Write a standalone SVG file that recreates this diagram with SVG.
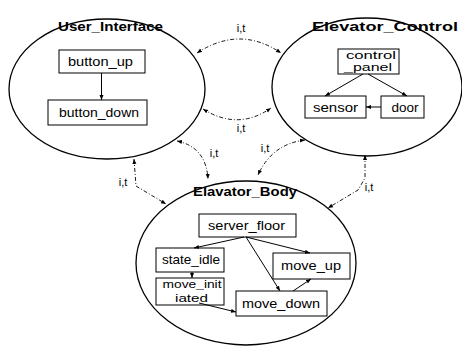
<svg xmlns="http://www.w3.org/2000/svg" width="462" height="346" viewBox="0 0 462 346">
<style>
.ell{fill:none;stroke:#000;stroke-width:1.3}
.box{fill:#fff;stroke:#000;stroke-width:1}
.t{font-family:"Liberation Sans",Arial,sans-serif;font-size:13px;fill:#000;text-anchor:middle}
.t2{font-family:"Liberation Sans",Arial,sans-serif;font-size:11px;fill:#000;text-anchor:middle}
.ti{font-family:"Liberation Sans",Arial,sans-serif;font-size:13.5px;font-weight:bold;fill:#000;text-anchor:middle}
.lb{font-family:"Liberation Sans",Arial,sans-serif;font-size:11px;fill:#000;text-anchor:middle}
.ar{fill:none;stroke:#000;stroke-width:1;marker-end:url(#ah)}
.cn{fill:none;stroke:#000;stroke-width:0.9;stroke-dasharray:4 2 1 2;marker-start:url(#ah);marker-end:url(#ah)}
</style>
<defs>
<marker id="ah" viewBox="0 0 10 10" refX="10" refY="5" markerWidth="5" markerHeight="5" markerUnits="userSpaceOnUse" orient="auto-start-reverse"><path d="M0,1 L10,5 L0,9 z" fill="#000"/></marker>
</defs>
<rect width="462" height="346" fill="#fff"/>
<g id="user_interface">
<ellipse class="ell" cx="107" cy="89" rx="98" ry="70"/>
<text class="ti" x="110.5" y="31" textLength="105" lengthAdjust="spacingAndGlyphs">User_Interface</text>
</g>
<g id="button_up">
<rect class="box" x="59" y="50" width="86" height="23"/>
<text class="t" x="100.5" y="66" textLength="65" lengthAdjust="spacingAndGlyphs">button_up</text>
</g>
<g id="button_down">
<rect class="box" x="48" y="100" width="99" height="25"/>
<text class="t" x="99" y="117" textLength="80" lengthAdjust="spacingAndGlyphs">button_down</text>
</g>
<g id="elevator_control">
<ellipse class="ell" cx="367" cy="87" rx="95" ry="69"/>
<text class="ti" x="385" y="31" textLength="146" lengthAdjust="spacingAndGlyphs">Elevator_Control</text>
</g>
<g id="control_panel">
<rect class="box" x="338" y="49" width="61" height="25"/>
<text class="t2" x="371" y="59" textLength="50" lengthAdjust="spacingAndGlyphs">control</text>
<text class="t2" x="368" y="71" textLength="48" lengthAdjust="spacingAndGlyphs">_panel</text>
</g>
<g id="sensor">
<rect class="box" x="305" y="96" width="61" height="22"/>
<text class="t" x="335.5" y="112" textLength="45" lengthAdjust="spacingAndGlyphs">sensor</text>
</g>
<g id="door">
<rect class="box" x="381" y="96" width="43" height="22"/>
<text class="t" x="405" y="112" textLength="27" lengthAdjust="spacingAndGlyphs">door</text>
</g>
<g id="elavator_body">
<ellipse class="ell" cx="246" cy="263" rx="110" ry="82"/>
<text class="ti" x="245" y="196" textLength="104" lengthAdjust="spacingAndGlyphs">Elavator_Body</text>
</g>
<g id="server_floor">
<rect class="box" x="199" y="214" width="97" height="23"/>
<text class="t" x="246.5" y="230" textLength="77" lengthAdjust="spacingAndGlyphs">server_floor</text>
</g>
<g id="state_idle">
<rect class="box" x="156" y="248" width="68" height="24"/>
<text class="t" x="191" y="264" textLength="58" lengthAdjust="spacingAndGlyphs">state_idle</text>
</g>
<g id="move_initiated">
<rect class="box" x="156" y="278" width="68" height="27"/>
<text class="t2" x="192" y="288" textLength="59" lengthAdjust="spacingAndGlyphs">move_init</text>
<text class="t2" x="191.5" y="302" textLength="33" lengthAdjust="spacingAndGlyphs">iated</text>
</g>
<g id="move_up">
<rect class="box" x="273" y="253" width="77" height="26"/>
<text class="t" x="311" y="270" textLength="60" lengthAdjust="spacingAndGlyphs">move_up</text>
</g>
<g id="move_down">
<rect class="box" x="236" y="291" width="91" height="25"/>
<text class="t" x="281" y="308" textLength="78" lengthAdjust="spacingAndGlyphs">move_down</text>
</g>
<g id="connectors">
<path class="ar" d="M101.5,73 L101.5,100"/>
<path class="ar" d="M363,74 L325,96"/>
<path class="ar" d="M368,74 L407,96"/>
<path class="ar" d="M381,107 L366,107"/>
<path class="ar" d="M244,237 L194,248"/>
<path class="ar" d="M246,237 L310,253"/>
<path class="ar" d="M246,237 L280,291"/>
<path class="ar" d="M293,291 L311,279"/>
<path class="ar" d="M192,272 L192,278"/>
<path class="ar" d="M199,303 L236,312"/>
<path class="cn" d="M197,53 Q240,25 281,53"/>
<text class="lb" x="241" y="32">i,t</text>
<path class="cn" d="M203,109 Q238,131 271,108"/>
<text class="lb" x="241" y="132">i,t</text>
<path class="cn" d="M177,141 Q206,147 208,179"/>
<text class="lb" x="214" y="157">i,t</text>
<path class="cn" d="M134,159 L136,186 L166,204"/>
<text class="lb" x="123" y="186">i,t</text>
<path class="cn" d="M305,140 Q272,144 258,175"/>
<text class="lb" x="265" y="152">i,t</text>
<path class="cn" d="M365,155 L365,178 L358,190 L328,208"/>
<text class="lb" x="369" y="191">i,t</text>
</g>
</svg>
